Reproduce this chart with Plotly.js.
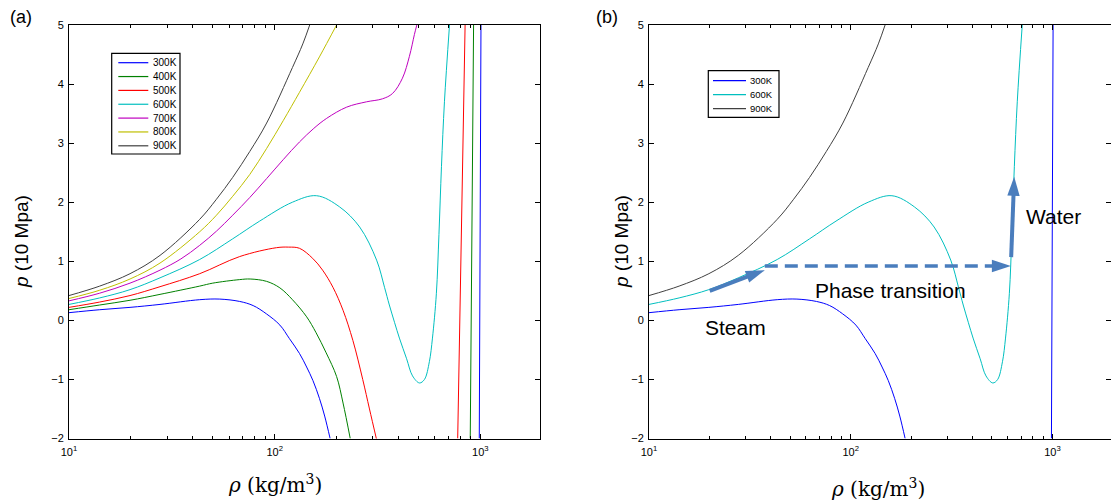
<!DOCTYPE html>
<html>
<head>
<meta charset="utf-8">
<script src="https://cdn.plot.ly/plotly-3.0.1.min.js"></script>
<style>
  html, body { margin: 0; padding: 0; background: #ffffff; }
  #chart { width: 1111px; height: 504px; }
</style>
</head>
<body>
<div id="chart"></div>
<script>
// Isotherms of water: pressure p (in units of 10 MPa) against density rho (kg/m^3).
// Each series: vapour-side branch, a gap (null), then the steep liquid branch.

const temps  = ['300K', '400K', '500K', '600K', '700K', '800K', '900K'];
const colors = ['#0000ff', '#008000', '#ff0000', '#00bfbf', '#bf00bf', '#bfbf00', '#404040'];

const rho300 = [10, 14.1, 19.8, 27.7, 43.2, 54.1, 67.6, 78.6, 91.2, 106, 118, 132, 143, 153.5, 165, 175, 186, null, 988, 1007];
const p300   = [0.13, 0.18, 0.22, 0.27, 0.35, 0.36, 0.32, 0.25, 0.11, -0.08, -0.31, -0.56, -0.79, -1.02, -1.32, -1.62, -2.0, null, -2, 5];

const rho400 = [10, 14.1, 19.8, 27.7, 43.2, 50, 67.6, 76, 91.4, 106, 122, 143, 159, 178, 200, 215, 233, null, 893, 927];
const p400   = [0.18, 0.26, 0.34, 0.44, 0.58, 0.63, 0.69, 0.70, 0.66, 0.55, 0.35, 0.06, -0.21, -0.55, -0.95, -1.40, -2.0, null, -2, 5];

const rho500 = [10, 14.1, 19.8, 27.7, 43.2, 67.6, 102, 117, 132, 153, 171, 192, 215, 240, 268, 289, 313, null, 776, 843];
const p500   = [0.22, 0.31, 0.42, 0.57, 0.79, 1.08, 1.23, 1.24, 1.22, 1.05, 0.85, 0.56, 0.17, -0.34, -1.00, -1.50, -2.02, null, -2, 5];

const rho600 = [10, 14.1, 19.8, 27.7, 43.2, 62.5, 84.5, 122, 160, 207, 259, 313, 342, 361, 383, 404, 438, 468, 506, 535, 565, 585, 611, 629, 647, 669, 708];
const p600   = [0.27, 0.38, 0.52, 0.72, 1.03, 1.38, 1.68, 2.0, 2.11, 1.92, 1.58, 1.02, 0.56, 0.26, -0.04, -0.30, -0.65, -0.94, -1.06, -1.0, -0.7, -0.3, 0.45, 1.45, 2.6, 3.7, 5.0];

const rho700 = [10, 14.1, 19.8, 27.7, 35, 43.2, 52.1, 62.5, 75.7, 91.4, 110, 132, 155, 179, 224, 280, 334, 374, 418, 452, 478, 491];
const p700   = [0.33, 0.46, 0.63, 0.85, 1.04, 1.27, 1.51, 1.78, 2.08, 2.40, 2.72, 3.02, 3.25, 3.42, 3.61, 3.70, 3.75, 3.84, 4.10, 4.47, 4.84, 5.0];

const rho800 = [10, 14.1, 19.8, 27.7, 43.2, 52.1, 62.5, 75.7, 91.4, 110, 132, 165, 200];
const p800   = [0.37, 0.51, 0.70, 0.97, 1.50, 1.78, 2.10, 2.47, 2.91, 3.38, 3.86, 4.46, 5.0];

const rho900 = [10, 14.1, 19.8, 27.7, 43.2, 52.1, 62.5, 75.7, 91.4, 122, 137, 148];
const p900   = [0.42, 0.58, 0.79, 1.10, 1.71, 2.05, 2.42, 2.86, 3.34, 4.28, 4.68, 5.0];

// Process arrows on panel (b): steam compression, phase transition, liquid water
const steamArrowRho = [20, 37.5];
const steamArrowP   = [0.50, 0.85];
const phaseArrowRho = [37.5, 622];
const phaseArrowP   = [0.92, 0.92];
const waterArrowRho = [624, 646];
const waterArrowP   = [1.07, 2.43];

// Axis ticks
const decadeTicks  = [10, 100, 1000];
const decadeLabels = ['10<sup>1</sup>', '10<sup>2</sup>', '10<sup>3</sup>'];
const minorTicks   = [20, 30, 40, 50, 60, 70, 80, 90, 200, 300, 400, 500, 600, 700, 800, 900];

const series = [
  [rho300, p300], [rho400, p400], [rho500, p500], [rho600, p600],
  [rho700, p700], [rho800, p800], [rho900, p900]
];

const W = 1111, H = 504;
const fx = px => px / W;
const fy = py => 1 - py / H;
const SANS = 'Liberation Sans, Arial, Helvetica, sans-serif';
const SERIF = 'DejaVu Serif, Liberation Serif, serif';
const ARROW = '#4a7dbd';

function isotherm(i, xa, ya) {
  return {
    x: series[i][0], y: series[i][1], name: temps[i],
    xaxis: xa, yaxis: ya, type: 'scatter', mode: 'lines',
    line: { color: colors[i], width: 1, shape: 'spline', smoothing: 1 },
    connectgaps: false, showlegend: false, hoverinfo: 'skip'
  };
}

function arrowTrace(xs, ys, dash) {
  return {
    x: xs, y: ys, xaxis: 'x2', yaxis: 'y2', type: 'scatter', mode: 'lines+markers',
    line: { color: ARROW, width: dash ? 3.5 : 4, dash: dash || 'solid' },
    marker: { symbol: 'arrow', size: [0, 20], angleref: 'previous', color: ARROW, opacity: 1, line: { width: 0 } },
    showlegend: false, hoverinfo: 'skip', cliponaxis: false
  };
}

const traces = [];
for (let i = 0; i < temps.length; i++) traces.push(isotherm(i, 'x', 'y'));
[0, 3, 6].forEach(i => traces.push(isotherm(i, 'x2', 'y2')));
traces.push(arrowTrace(steamArrowRho, steamArrowP));
traces.push(arrowTrace(phaseArrowRho, phaseArrowP, '13px,7px'));
traces.push(arrowTrace(waterArrowRho, waterArrowP));

function xAxis(domain, anchor) {
  return {
    type: 'log', domain: domain, anchor: anchor, range: [1, 3.29],
    tickmode: 'array', tickvals: decadeTicks, ticktext: decadeLabels,
    ticks: 'inside', ticklen: 5, tickwidth: 1, tickcolor: '#000',
    minor: { tickmode: 'array', tickvals: minorTicks, ticks: 'inside', ticklen: 3, tickwidth: 1, tickcolor: '#000', showgrid: false },
    showline: true, linecolor: '#000', linewidth: 1, mirror: 'ticks',
    showgrid: false, zeroline: false, ticklabelstandoff: 3,
    tickfont: { family: SANS, size: 11, color: '#000' }, fixedrange: true
  };
}
function yAxis(domain, anchor) {
  return {
    domain: domain, anchor: anchor, range: [-2, 5],
    tickmode: 'linear', tick0: 0, dtick: 1,
    ticks: 'inside', ticklen: 5, tickwidth: 1, tickcolor: '#000',
    showline: true, linecolor: '#000', linewidth: 1, mirror: 'ticks',
    showgrid: false, zeroline: false, ticklabelstandoff: 2,
    tickfont: { family: SANS, size: 11, color: '#000' }, fixedrange: true
  };
}

const yDom = [fy(438.5), fy(25)];

const shapes = [];
const annotations = [];

// Hand-built legend boxes listing the isotherms of each panel
function legendBox(idx, box, row0, rowStep, lx0, lx1, tx, size) {
  shapes.push({ type: 'rect', xref: 'paper', yref: 'paper',
    x0: fx(box[0]), x1: fx(box[1]), y0: fy(box[2]), y1: fy(box[3]),
    line: { color: '#000', width: 1.2 }, fillcolor: '#ffffff' });
  idx.forEach((i, k) => {
    const ry = row0 + k * rowStep;
    shapes.push({ type: 'line', xref: 'paper', yref: 'paper',
      x0: fx(lx0), x1: fx(lx1), y0: fy(ry), y1: fy(ry),
      line: { color: colors[i], width: 1.2 } });
    annotations.push({ xref: 'paper', yref: 'paper', x: fx(tx), y: fy(ry),
      xanchor: 'left', yanchor: 'middle', showarrow: false, text: temps[i],
      font: { family: SANS, size: size, color: '#000' } });
  });
}
legendBox([0, 1, 2, 3, 4, 5, 6], [111.7, 180, 53.3, 154], 62.7, 13.85, 118.3, 148.3, 151, 10);
legendBox([0, 3, 6], [708.3, 779, 70.7, 117.3], 80.7, 14, 713, 746, 748, 9.5);

function label(text, x, y, size, family, angle) {
  annotations.push({ xref: 'paper', yref: 'paper', x: fx(x), y: fy(y),
    xanchor: 'center', yanchor: 'middle', showarrow: false, text: text,
    textangle: angle || 0, font: { family: family, size: size, color: '#000' } });
}
label('(a)', 20.5, 17.5, 18, SANS);
label('(b)', 607, 17.5, 18, SANS);
label('<i>p</i> (10 Mpa)', 21, 242, 19, SANS, -90);
label('<i>p</i> (10 Mpa)', 621, 242, 19, SANS, -90);
label('<i>ρ</i> (kg/m<sup>3</sup>)', 275, 484, 20, SERIF);
label('<i>ρ</i> (kg/m<sup>3</sup>)', 878, 488, 20, SERIF);
label('Steam', 735, 327, 21, SANS);
label('Phase transition', 890, 290, 21, SANS);
label('Water', 1053, 216, 21, SANS);

const layout = {
  width: W, height: H,
  margin: { l: 0, r: 0, t: 0, b: 0, pad: 0 },
  paper_bgcolor: '#ffffff', plot_bgcolor: '#ffffff',
  showlegend: false,
  xaxis: xAxis([fx(69), fx(540)], 'y'),
  yaxis: yAxis(yDom, 'x'),
  xaxis2: xAxis([fx(649), 1], 'y2'),
  yaxis2: yAxis(yDom, 'x2'),
  shapes: shapes,
  annotations: annotations
};

Plotly.newPlot('chart', traces, layout, { staticPlot: true, displayModeBar: false });
</script>
</body>
</html>
